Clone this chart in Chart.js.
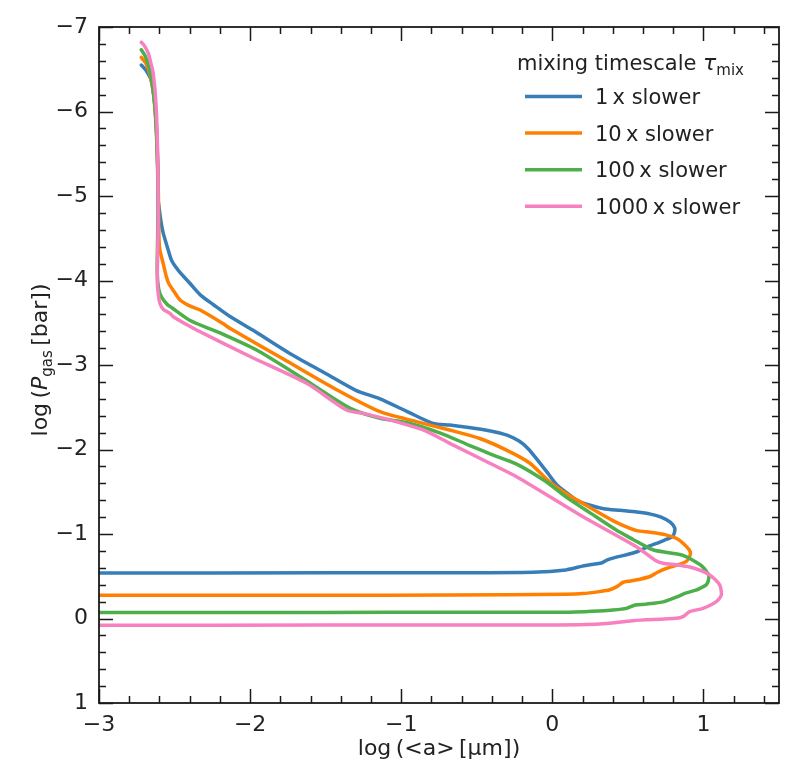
<!DOCTYPE html>
<html><head><meta charset="utf-8">
<script src="https://cdn.jsdelivr.net/npm/chart.js@4.4.0/dist/chart.umd.min.js"></script>
<style>html,body{margin:0;padding:0;background:#fff}#wrap{width:797px;height:784px;position:relative}</style>
</head><body><div id="wrap"><canvas id="c"></canvas></div>
<script>
// ---- data ----
const seriesLabels = ['1\u2009x slower', '10\u2009x slower', '100\u2009x slower', '1000\u2009x slower'];
const seriesColors = ['#377eb8', '#ff7f00', '#4daf4a', '#f781bf'];

// log <a> [um]  and  log P_gas [bar]
const s1A = [-2.72,-2.69,-2.655,-2.633,-2.62,-2.612,-2.608,-2.603,-2.59,-2.575,-2.545,-2.52,-2.475,-2.40,-2.33,-2.24,-2.13,-1.98,-1.74,-1.50,-1.30,-1.14,-0.95,-0.79,-0.68,-0.59,-0.41,-0.30,-0.22,-0.16,-0.10,-0.03,0.03,0.10,0.16,0.25,0.34,0.45,0.56,0.65,0.72,0.78,0.81,0.805,0.79,0.74,0.69,0.62,0.56,0.48,0.40,0.36,0.33,0.28,0.20,0.09,-0.13,-0.68,-1.5,-3.0];
const s1P = [-6.55,-6.49,-6.37,-6.12,-5.8,-5.4,-4.95,-4.87,-4.70,-4.56,-4.38,-4.24,-4.12,-3.97,-3.83,-3.71,-3.57,-3.41,-3.14,-2.90,-2.70,-2.60,-2.44,-2.31,-2.29,-2.27,-2.22,-2.17,-2.10,-2.01,-1.88,-1.72,-1.58,-1.48,-1.40,-1.34,-1.30,-1.28,-1.26,-1.235,-1.20,-1.14,-1.07,-1.0,-0.965,-0.925,-0.89,-0.84,-0.79,-0.75,-0.715,-0.69,-0.66,-0.645,-0.62,-0.575,-0.548,-0.542,-0.54,-0.538];

const s2A = [-2.72,-2.69,-2.66,-2.638,-2.622,-2.612,-2.606,-2.603,-2.597,-2.575,-2.555,-2.54,-2.50,-2.464,-2.40,-2.33,-2.18,-2.134,-1.78,-1.43,-1.14,-0.90,-0.68,-0.48,-0.30,-0.15,-0.02,0.09,0.20,0.32,0.42,0.51,0.56,0.65,0.75,0.82,0.865,0.91,0.912,0.89,0.84,0.76,0.70,0.65,0.58,0.50,0.47,0.43,0.38,0.31,0.20,0.09,-0.68,-1.5,-3.0];
const s2P = [-6.64,-6.57,-6.42,-6.2,-5.85,-5.4,-4.9,-4.5,-4.36,-4.20,-4.05,-3.97,-3.86,-3.77,-3.70,-3.65,-3.49,-3.434,-3.07,-2.71,-2.447,-2.33,-2.23,-2.13,-1.99,-1.84,-1.62,-1.48,-1.365,-1.24,-1.14,-1.07,-1.04,-1.02,-0.99,-0.95,-0.89,-0.80,-0.75,-0.68,-0.64,-0.595,-0.55,-0.50,-0.465,-0.44,-0.43,-0.38,-0.34,-0.318,-0.295,-0.288,-0.278,-0.276,-0.275];

const s3A = [-2.72,-2.695,-2.668,-2.645,-2.628,-2.615,-2.61,-2.612,-2.615,-2.605,-2.585,-2.55,-2.52,-2.40,-2.20,-1.96,-1.65,-1.34,-1.14,-0.965,-0.75,-0.55,-0.40,-0.24,-0.05,0.09,0.25,0.42,0.54,0.62,0.67,0.76,0.86,0.93,0.99,1.03,1.036,1.02,0.98,0.95,0.88,0.83,0.74,0.62,0.55,0.49,0.40,0.31,0.15,-0.02,-0.68,-1.5,-3.0];
const s3P = [-6.73,-6.66,-6.52,-6.3,-6.0,-5.5,-5.0,-4.5,-4.1,-3.90,-3.80,-3.72,-3.68,-3.53,-3.38,-3.18,-2.84,-2.49,-2.37,-2.32,-2.20,-2.05,-1.94,-1.83,-1.63,-1.44,-1.25,-1.05,-0.93,-0.85,-0.81,-0.78,-0.75,-0.69,-0.62,-0.53,-0.48,-0.40,-0.36,-0.335,-0.30,-0.26,-0.20,-0.17,-0.16,-0.12,-0.10,-0.09,-0.078,-0.074,-0.073,-0.072,-0.07];

const s4A = [-2.72,-2.70,-2.674,-2.655,-2.641,-2.623,-2.612,-2.608,-2.612,-2.614,-2.605,-2.597,-2.575,-2.53,-2.509,-2.376,-2.354,-2.0,-1.626,-1.362,-1.252,-1.075,-0.855,-0.679,-0.414,-0.237,0.203,0.556,0.68,0.733,0.82,0.909,0.98,1.041,1.107,1.118,1.085,0.997,0.909,0.864,0.821,0.534,0.314,-0.017,-0.679,-1.5,-3.0];
const s4P = [-6.82,-6.78,-6.69,-6.56,-6.45,-6.10,-5.51,-4.72,-4.30,-3.97,-3.80,-3.73,-3.66,-3.61,-3.572,-3.434,-3.414,-3.10,-2.783,-2.467,-2.428,-2.349,-2.231,-2.073,-1.837,-1.678,-1.205,-0.85,-0.69,-0.653,-0.635,-0.61,-0.57,-0.515,-0.397,-0.278,-0.199,-0.12,-0.081,-0.022,-0.002,0.026,0.065,0.077,0.077,0.078,0.08];

const xMajorTicks = [-3, -2, -1, 0, 1];
const yMajorTicks = [-7, -6, -5, -4, -3, -2, -1, 0, 1];
const xRange = [-3, 1.5];
const yRange = [-7, 1];
const minorStep = 0.2;

const seriesA = [s1A, s2A, s3A, s4A];
const seriesP = [s1P, s2P, s3P, s4P];

// ---- chart ----
const FONT = 'DejaVu Sans';
const TXT = '#222';
Chart.defaults.font.family = FONT;
Chart.defaults.color = TXT;

const fmt = v => (v < 0 ? '\u2212' + Math.abs(v) : String(v));

function minorList(range, majors) {
  const out = [];
  for (let k = Math.ceil(range[0] / minorStep - 1e-9); k * minorStep <= range[1] + 1e-9; k++) {
    const v = +(k * minorStep).toFixed(6);
    if (v < range[0] - 1e-9 || v > range[1] + 1e-9) continue;
    if (!majors.some(m => Math.abs(m - v) < 1e-6)) out.push(v);
  }
  return out;
}

const frameTicks = {
  id: 'frameTicks',
  afterDatasetsDraw(chart) {
    const {ctx, chartArea: a, scales: {x, y}} = chart;
    ctx.save();
    ctx.strokeStyle = '#1a1a1a';
    ctx.lineWidth = 1.5;
    const tick = (vals, len, horiz) => {
      vals.forEach(v => {
        if (horiz) {
          const px = Math.round(x.getPixelForValue(v)) + 0.5;
          ctx.beginPath();
          ctx.moveTo(px, a.bottom); ctx.lineTo(px, a.bottom - len);
          ctx.moveTo(px, a.top); ctx.lineTo(px, a.top + len);
          ctx.stroke();
        } else {
          const py = Math.round(y.getPixelForValue(v)) + 0.5;
          ctx.beginPath();
          ctx.moveTo(a.left, py); ctx.lineTo(a.left + len, py);
          ctx.moveTo(a.right, py); ctx.lineTo(a.right - len, py);
          ctx.stroke();
        }
      });
    };
    tick(xMajorTicks, 14, true);
    tick(minorList(xRange, xMajorTicks), 7, true);
    tick(yMajorTicks, 14, false);
    tick(minorList(yRange, yMajorTicks), 7, false);
    ctx.lineWidth = 1.8;
    ctx.strokeRect(a.left, a.top, a.right - a.left, a.bottom - a.top);
    ctx.restore();
  }
};

function drawPieces(ctx, pieces, x, y) {
  let cx = x;
  pieces.forEach(([t, f, dy]) => {
    ctx.font = f;
    ctx.fillText(t, cx, y + dy);
    cx += ctx.measureText(t).width;
  });
  return cx;
}
function piecesWidth(ctx, pieces) {
  let w = 0;
  pieces.forEach(([t, f]) => { ctx.font = f; w += ctx.measureText(t).width; });
  return w;
}

const annotations = {
  id: 'annotations',
  afterDraw(chart) {
    const {ctx, chartArea: a} = chart;
    ctx.save();
    ctx.fillStyle = TXT;
    ctx.textBaseline = 'alphabetic';
    ctx.textAlign = 'left';
    // y-axis title
    const yt = [
      ['log\u2009(', `22px "${FONT}"`, 0],
      ['P', `italic 22px "${FONT}"`, 0],
      ['gas', `15px "${FONT}"`, 5],
      ['\u2009[bar])', `22px "${FONT}"`, 0]
    ];
    const w = piecesWidth(ctx, yt);
    ctx.translate(47, (a.top + a.bottom) / 2 - 5);
    ctx.rotate(-Math.PI / 2);
    drawPieces(ctx, yt, -w / 2, 0);
    ctx.setTransform(1, 0, 0, 1, 0, 0);
    // legend
    const lt = [
      ['mixing timescale ', `21px "${FONT}"`, 0],
      ['\u03c4', `italic 22px "${FONT}"`, 0],
      ['mix', `15px "${FONT}"`, 5]
    ];
    drawPieces(ctx, lt, 517, 70);
    chart.data.datasets.forEach((ds, i) => {
      const yy = 96.5 + i * 36.6;
      ctx.strokeStyle = ds.borderColor;
      ctx.lineWidth = 3.5;
      ctx.beginPath();
      ctx.moveTo(525, yy); ctx.lineTo(582, yy);
      ctx.stroke();
      ctx.font = `21px "${FONT}"`;
      ctx.fillStyle = TXT;
      ctx.fillText(ds.label, 595, yy + 7.5);
    });
    ctx.restore();
  }
};

const datasets = seriesA.map((A, i) => ({
  label: seriesLabels[i],
  data: A.map((a, j) => ({x: a, y: seriesP[i][j]})),
  borderColor: seriesColors[i],
  backgroundColor: seriesColors[i],
  borderWidth: 3.5,
  showLine: true,
  pointRadius: 0,
  tension: 0.25,
  borderJoinStyle: 'round',
  borderCapStyle: 'round',
  fill: false,
  order: 4 - i
}));

new Chart(document.getElementById('c'), {
  type: 'scatter',
  data: {datasets},
  options: {
    responsive: true,
    maintainAspectRatio: false,
    animation: false,
    devicePixelRatio: 1,
    layout: {padding: {top: 27, right: 18, left: 0, bottom: 0}},
    plugins: {legend: {display: false}, tooltip: {enabled: false}},
    scales: {
      x: {
        type: 'linear', min: xRange[0], max: xRange[1],
        grid: {display: false, drawTicks: false},
        border: {display: false},
        afterBuildTicks: s => { s.ticks = xMajorTicks.map(v => ({value: v})); },
        afterFit: s => { s.height = 81; },
        ticks: {callback: fmt, font: {size: 22}, color: TXT, padding: 9, maxRotation: 0},
        title: {display: true, text: 'log\u2009(<a>\u2009[\u03bcm])', font: {size: 22}, color: TXT, padding: {top: 0, bottom: 22}}
      },
      y: {
        type: 'linear', min: yRange[0], max: yRange[1], reverse: true,
        grid: {display: false, drawTicks: false},
        border: {display: false},
        afterBuildTicks: s => { s.ticks = yMajorTicks.map(v => ({value: v})); },
        afterFit: s => { s.width = 99; },
        ticks: {callback: fmt, font: {size: 22}, color: TXT, padding: 11}
      }
    }
  },
  plugins: [frameTicks, annotations]
});
</script>
</body></html>
